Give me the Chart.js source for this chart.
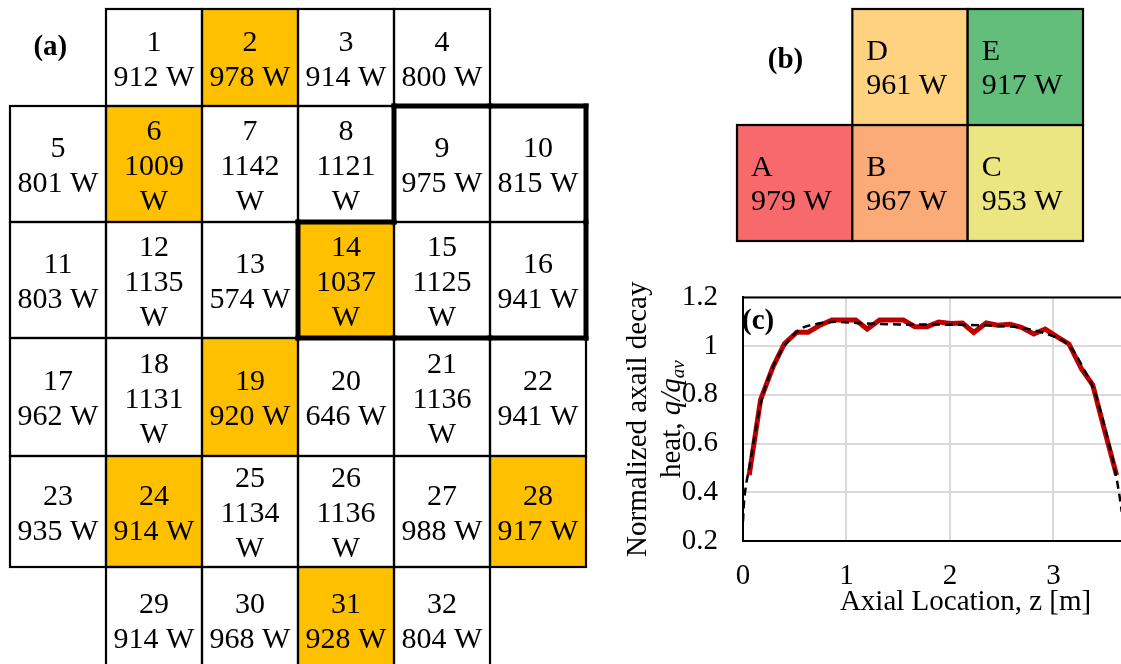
<!DOCTYPE html>
<html>
<head>
<meta charset="utf-8">
<script src="https://cdn.jsdelivr.net/npm/chart.js@4.4.0/dist/chart.umd.min.js"></script>
<style>
  html, body { margin: 0; padding: 0; background: #fff; overflow: hidden; width: 1121px; height: 664px; }
  canvas { position: absolute; }
  #core { left: 0; top: 0; }
  #regions { left: 720px; top: 0; }
  #axial { left: 620px; top: 255px; }
</style>
</head>
<body>
<canvas id="core" width="600" height="672"></canvas>
<canvas id="regions" width="401" height="250"></canvas>
<canvas id="axial" width="568" height="409"></canvas>
<script>
// (a) core map: assembly numbers by row, power per assembly (W)
const coreLayout = [
    [null, 1, 2, 3, 4, null],
    [5, 6, 7, 8, 9, 10],
    [11, 12, 13, 14, 15, 16],
    [17, 18, 19, 20, 21, 22],
    [23, 24, 25, 26, 27, 28],
    [null, 29, 30, 31, 32, null]
];
const assemblyPower = [912, 978, 914, 800, 801, 1009, 1142, 1121, 975, 815,
    803, 1135, 574, 1037, 1125, 941, 962, 1131, 920, 646, 1136, 941,
    935, 914, 1134, 1136, 988, 917, 914, 968, 928, 804];
const hotAssemblies = [2, 6, 14, 19, 24, 28, 31];
const boxedAssemblies = [9, 10, 14, 15, 16];

// (b) regions
const regionLabels = ['A', 'B', 'C', 'D', 'E'];
const regionPower = [979, 967, 953, 961, 917];
const regionSlots = [[0, 1], [1, 1], [2, 1], [1, 0], [2, 0]]; // [col, row]

// (c) axial profile
const zModel = [0.06, 0.17, 0.29, 0.40, 0.52, 0.63, 0.75, 0.86, 0.97, 1.09, 1.20, 1.32,
    1.43, 1.55, 1.66, 1.78, 1.89, 2.01, 2.12, 2.23, 2.35, 2.46, 2.58, 2.69,
    2.81, 2.92, 3.04, 3.15, 3.27, 3.38, 3.49, 3.61];
const qModel = [0.47, 0.78, 0.915, 1.01, 1.057, 1.057, 1.087, 1.107, 1.107, 1.107, 1.07, 1.107,
    1.107, 1.107, 1.08, 1.08, 1.099, 1.093, 1.095, 1.056, 1.095, 1.086, 1.09, 1.077,
    1.05, 1.07, 1.037, 1.009, 0.907, 0.84, 0.66, 0.47];
const zFit = [0, 0.01, 0.03, 0.06, 0.1, 0.15, 0.2, 0.3, 0.4, 0.5, 0.57, 0.7, 0.9, 1.1,
    1.5, 2.0, 2.5, 2.7, 2.9, 3.0, 3.1, 3.2, 3.3, 3.4, 3.5, 3.55, 3.6, 3.64, 3.66];
const qFit = [0.28, 0.36, 0.43, 0.50, 0.60, 0.72, 0.81, 0.925, 1.0, 1.05, 1.074, 1.09, 1.10, 1.095,
    1.089, 1.088, 1.082, 1.075, 1.055, 1.04, 1.02, 0.975, 0.90, 0.81, 0.66, 0.575, 0.48, 0.38, 0.32];
const xTicks = [0, 1, 2, 3, 4];
const yTicks = [0.2, 0.4, 0.6, 0.8, 1, 1.2];

// styles
const SERIF = '"Liberation Serif", "Times New Roman", serif';
const HOT = '#FFC000';
const regionColors = ['#F8696B', '#FBAB77', '#EBE582', '#FED280', '#63BE7B'];
const rowHeights = [97, 116, 116, 118, 111, 105]; // rows 2-5 hold three text lines

const rowEdges = rowHeights.reduce((acc, h) => { acc.push(acc[acc.length - 1] + h); return acc; }, [0]);

function hline(ctx, x1, y1, x2, y2) {
    ctx.beginPath(); ctx.moveTo(x1, y1); ctx.lineTo(x2, y2); ctx.stroke();
}

const coreMapPlugin = {
    id: 'coreMap',
    afterDatasetsDraw(chart) {
        const { ctx, scales: { x, y } } = chart;
        const slots = {};
        coreLayout.forEach((row, r) => row.forEach((id, c) => { if (id) slots[id] = { r, c }; }));
        const box = id => {
            const p = slots[id];
            return {
                l: x.getPixelForValue(p.c), r: x.getPixelForValue(p.c + 1),
                t: y.getPixelForValue(rowEdges[p.r]), b: y.getPixelForValue(rowEdges[p.r + 1])
            };
        };
        const ids = Object.keys(slots).map(Number);
        ctx.save();
        ids.forEach(id => {
            const b = box(id);
            ctx.fillStyle = hotAssemblies.includes(id) ? HOT : '#fff';
            ctx.fillRect(b.l, b.t, b.r - b.l, b.b - b.t);
        });
        ctx.strokeStyle = '#000';
        ctx.lineWidth = 2.2;
        ids.forEach(id => { const b = box(id); ctx.strokeRect(b.l, b.t, b.r - b.l, b.b - b.t); });

        ctx.fillStyle = '#000';
        ctx.font = '30px ' + SERIF;
        ctx.textAlign = 'center';
        ctx.textBaseline = 'middle';
        ids.forEach(id => {
            const b = box(id);
            const w = assemblyPower[id - 1];
            const lines = w >= 1000 ? [String(id), String(w), 'W'] : [String(id), w + ' W'];
            const cx = (b.l + b.r) / 2, cy = (b.t + b.b) / 2 + 3;
            const step = 35;
            lines.forEach((t, i) => ctx.fillText(t, cx, cy + (i - (lines.length - 1) / 2) * step));
        });

        // thick outline around the boxed group
        ctx.lineWidth = 5;
        ctx.lineCap = 'square';
        const inGroup = (r, c) => coreLayout[r] && boxedAssemblies.includes(coreLayout[r][c]);
        boxedAssemblies.forEach(id => {
            const p = slots[id], b = box(id);
            if (!inGroup(p.r - 1, p.c)) hline(ctx, b.l, b.t, b.r, b.t);
            if (!inGroup(p.r + 1, p.c)) hline(ctx, b.l, b.b, b.r, b.b);
            if (!inGroup(p.r, p.c - 1)) hline(ctx, b.l, b.t, b.l, b.b);
            if (!inGroup(p.r, p.c + 1)) hline(ctx, b.r, b.t, b.r, b.b);
        });

        ctx.font = 'bold 29px ' + SERIF;
        ctx.fillText('(a)', x.getPixelForValue(0.42), y.getPixelForValue(rowEdges[1] / 2 - 10));
        ctx.restore();
    }
};

new Chart(document.getElementById('core'), {
    type: 'scatter',
    data: { datasets: [] },
    options: {
        responsive: false, animation: false,
        layout: { padding: { left: 10, top: 9, right: 14, bottom: 0 } },
        plugins: { legend: { display: false }, tooltip: { enabled: false } },
        scales: {
            x: { type: 'linear', min: 0, max: 6, display: false },
            y: { type: 'linear', min: 0, max: rowEdges[rowEdges.length - 1], reverse: true, display: false }
        }
    },
    plugins: [coreMapPlugin]
});

const regionPlugin = {
    id: 'regionMap',
    afterDatasetsDraw(chart) {
        const { ctx, scales: { x, y } } = chart;
        ctx.save();
        regionLabels.forEach((lab, i) => {
            const [c, r] = regionSlots[i];
            const l = x.getPixelForValue(c), rr = x.getPixelForValue(c + 1);
            const t = y.getPixelForValue(r), b = y.getPixelForValue(r + 1);
            ctx.fillStyle = regionColors[i];
            ctx.fillRect(l, t, rr - l, b - t);
            ctx.strokeStyle = '#000';
            ctx.lineWidth = 2.2;
            ctx.strokeRect(l, t, rr - l, b - t);
            ctx.fillStyle = '#000';
            ctx.font = '30px ' + SERIF;
            ctx.textAlign = 'left';
            ctx.textBaseline = 'middle';
            ctx.fillText(lab, l + 14, t + 43);
            ctx.fillText(regionPower[i] + ' W', l + 14, t + 77);
        });
        ctx.font = 'bold 29px ' + SERIF;
        ctx.textAlign = 'center';
        ctx.textBaseline = 'middle';
        ctx.fillText('(b)', x.getPixelForValue(0.42), y.getPixelForValue(0.44));
        ctx.restore();
    }
};

new Chart(document.getElementById('regions'), {
    type: 'scatter',
    data: { datasets: [] },
    options: {
        responsive: false, animation: false,
        layout: { padding: { left: 17, top: 9, right: 38, bottom: 9 } },
        plugins: { legend: { display: false }, tooltip: { enabled: false } },
        scales: {
            x: { type: 'linear', min: 0, max: 3, display: false },
            y: { type: 'linear', min: 0, max: 2, reverse: true, display: false }
        }
    },
    plugins: [regionPlugin]
});

const axialPlugin = {
    id: 'axialDecor',
    afterDraw(chart) {
        const { ctx, chartArea: a } = chart;
        ctx.save();
        ctx.strokeStyle = '#000';
        ctx.lineWidth = 2;
        hline(ctx, a.left, a.top, a.right, a.top);

        ctx.fillStyle = '#000';
        ctx.font = 'bold 29px ' + SERIF;
        ctx.textAlign = 'left';
        ctx.textBaseline = 'middle';
        ctx.fillText('(c)', a.left - 1, a.top + 24);

        // y title, two rotated lines
        const yc = (a.top + a.bottom) / 2;
        ctx.translate(a.left - 105, yc);
        ctx.rotate(-Math.PI / 2);
        ctx.textAlign = 'center';
        ctx.font = '29px ' + SERIF;
        ctx.fillText('Normalized axail decay', 0, 0);

        const parts = [
            { t: 'heat, ', f: '29px ' + SERIF, dy: 0 },
            { t: 'q/q', f: 'italic 29px ' + SERIF, dy: 0 },
            { t: 'av', f: 'italic 19px ' + SERIF, dy: 7 }
        ];
        let total = 0;
        parts.forEach(p => { ctx.font = p.f; p.w = ctx.measureText(p.t).width; total += p.w; });
        let px = -total / 2;
        ctx.textAlign = 'left';
        parts.forEach(p => { ctx.font = p.f; ctx.fillText(p.t, px, 34 + p.dy); px += p.w; });
        ctx.restore();
    }
};

const tickFont = { family: SERIF, size: 29 };

new Chart(document.getElementById('axial'), {
    type: 'line',
    data: {
        datasets: [
            {
                data: zFit.map((z, i) => ({ x: z, y: qFit[i] })),
                borderColor: '#000', borderWidth: 2.5, borderDash: [8, 5],
                pointRadius: 0, tension: 0.4, cubicInterpolationMode: 'monotone', fill: false
            },
            {
                data: zModel.map((z, i) => ({ x: z, y: qModel[i] })),
                borderColor: '#C00000', borderWidth: 5,
                pointRadius: 0, tension: 0, fill: false
            }
        ]
    },
    options: {
        responsive: false, animation: false,
        layout: { padding: { top: 17, left: 0, right: 0, bottom: 0 } },
        plugins: { legend: { display: false }, tooltip: { enabled: false } },
        scales: {
            x: {
                type: 'linear', min: 0, max: 4.3,
                afterBuildTicks: s => { s.ticks = xTicks.map(v => ({ value: v })); },
                afterFit: s => { s.height = 123; },
                grid: { color: '#D9D9D9', lineWidth: 2, drawTicks: false },
                border: { color: '#000', width: 2 },
                ticks: { color: '#000', font: tickFont, padding: 18, maxRotation: 0, autoSkip: false },
                title: { display: true, text: 'Axial Location, z [m]', color: '#000', font: tickFont, padding: { top: 0, bottom: 44 } }
            },
            y: {
                type: 'linear', min: 0.2, max: 1.2,
                afterBuildTicks: s => { s.ticks = yTicks.map(v => ({ value: v })); },
                afterFit: s => { s.width = 123; },
                grid: { color: '#D9D9D9', lineWidth: 2, drawTicks: false },
                border: { color: '#000', width: 2 },
                ticks: { color: '#000', font: tickFont, padding: 25, callback: v => String(Number(v.toFixed(1))) }
            }
        }
    },
    plugins: [axialPlugin]
});
</script>
</body>
</html>
